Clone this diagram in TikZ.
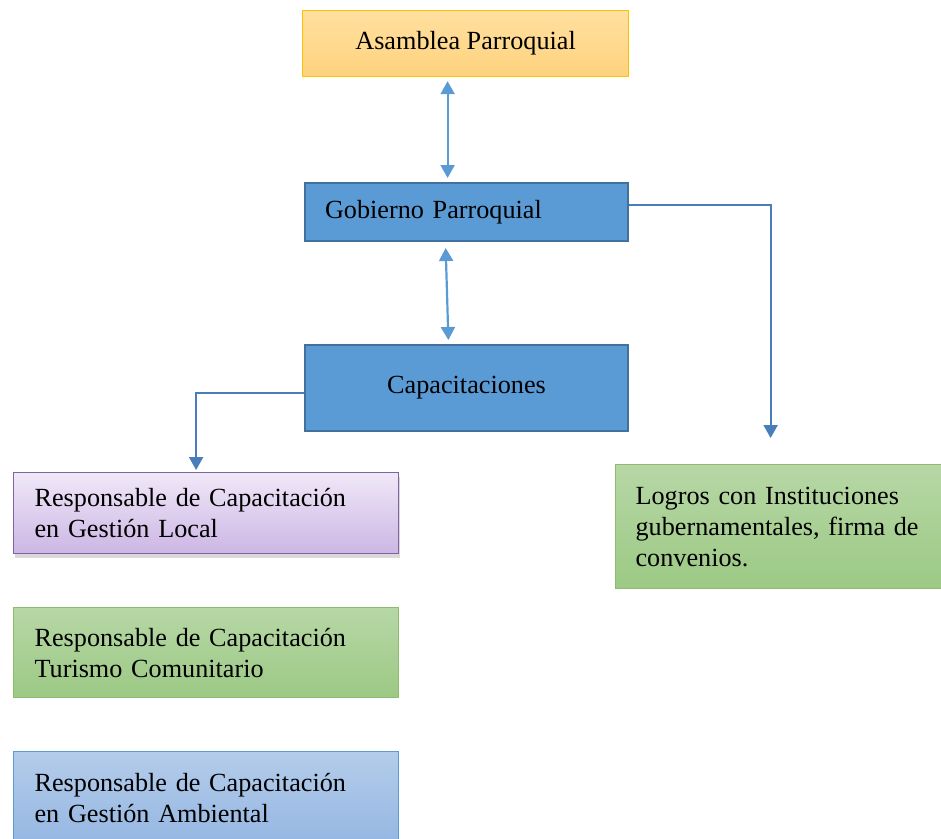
\documentclass[tikz,border=0pt]{standalone}
\usepackage{fontspec}
\setmainfont{Liberation Serif}
\usetikzlibrary{arrows.meta, positioning, shadows, calc}
\definecolor{asmtop}{RGB}{255,224,160}
\definecolor{asmbot}{RGB}{254,210,125}
\definecolor{asmline}{RGB}{255,192,0}
\definecolor{govfill}{RGB}{91,155,213}
\definecolor{govline}{RGB}{65,113,156}
\definecolor{lilatop}{RGB}{240,232,248}
\definecolor{lilabot}{RGB}{204,182,228}
\definecolor{lilaline}{RGB}{128,100,162}
\definecolor{greentop}{RGB}{183,215,166}
\definecolor{greenbot}{RGB}{156,201,132}
\definecolor{greenline}{RGB}{112,173,71}
\definecolor{bluetop}{RGB}{180,204,234}
\definecolor{bluebot}{RGB}{149,183,226}
\definecolor{arrowlight}{RGB}{91,155,213}
\definecolor{arrowdark}{RGB}{74,126,187}
\tikzstyle{box} = [rectangle, anchor=north west, inner ysep=0pt, align=left, font=\fontsize{26.2}{31}\selectfont]
\tikzstyle{dblarrow} = [{Triangle[width=14pt,length=13pt]}-{Triangle[width=14pt,length=13pt]}, line width=2.2pt, draw=arrowlight]
\tikzstyle{elbow} = [-{Triangle[width=14pt,length=13pt]}, line width=2pt, draw=arrowdark]

\begin{document}
\begin{tikzpicture}[x=1pt, y=-1pt]
    \useasboundingbox (0,0) rectangle (941,838);

    % Top level
    \node[box, draw=asmline, line width=1.2pt, top color=asmtop, bottom color=asmbot,
          minimum width=326pt, minimum height=66pt, inner xsep=0pt, align=center] (asm) at (302,10) {Asamblea Parroquial};
    \node[box, draw=govline, line width=2pt, fill=govfill,
          minimum height=58pt, inner xsep=20pt, text width=283pt] (gob) at (304,182) {\raisebox{-2pt}{Gobierno Parroquial}};
    \node[box, draw=govline, line width=2pt, fill=govfill,
          minimum width=323pt, minimum height=86pt, inner xsep=0pt, align=center] (cap) at (304,344) {Capacitaciones};

    % Responsables
    \node[box, draw=lilaline, line width=1.2pt, top color=lilatop, bottom color=lilabot,
          drop shadow={shadow xshift=1pt, shadow yshift=-4pt, opacity=0.3},
          minimum height=81pt, inner xsep=21pt, text width=343pt] (local) at (13,472)
          {Responsable de Capacitación\\en Gestión Local};
    \node[box, draw=greenline!80, line width=1.2pt, top color=greentop, bottom color=greenbot,
          minimum height=90pt, inner xsep=21pt, text width=343pt] (tur) at (13,607)
          {Responsable de Capacitación\\Turismo Comunitario};
    \node[box, draw=govfill, line width=1.2pt, top color=bluetop, bottom color=bluebot,
          minimum height=92pt, inner xsep=21pt, text width=343pt] (amb) at (13,751)
          {Responsable de Capacitación\\en Gestión Ambiental};

    % Logros
    \node[box, draw=greenline!80, line width=1.2pt, top color=greentop, bottom color=greenbot,
          minimum height=124pt, inner xsep=20pt, text width=290pt] (logros) at (615,464)
          {Logros con Instituciones\\gubernamentales, firma de\\convenios.};

    % Connectors
    \draw[dblarrow, shorten <=4pt, shorten >=4pt] ([xshift=-18pt]asm.south) -- ([xshift=-18pt]asm.south |- gob.north);
    \draw[dblarrow, shorten <=6pt, shorten >=4pt] ([xshift=-21pt]gob.south) -- ([xshift=-18pt]cap.north);
    \draw[elbow, shorten >=26pt] ([yshift=7pt]gob.east) -| ([xshift=-10pt]logros.north);
    \draw[elbow, shorten >=2pt] ([yshift=-5pt]cap.west) -| ([xshift=-10pt]local.north);

\end{tikzpicture}
\end{document}
